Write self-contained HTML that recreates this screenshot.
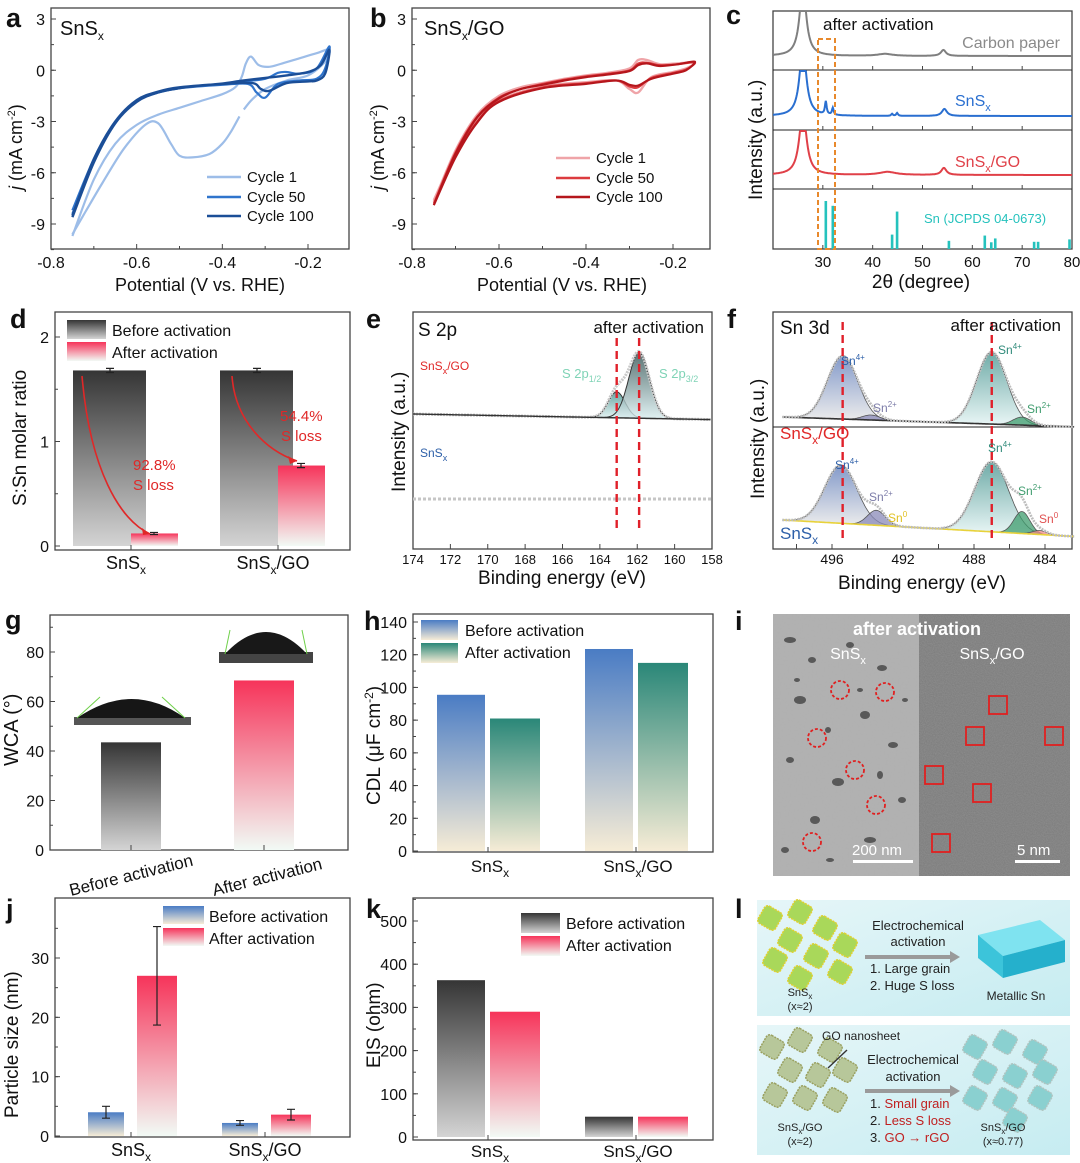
<!DOCTYPE html>
<html><head><meta charset="utf-8"><style>
body{margin:0;background:#fff}
svg{display:block;font-family:"Liberation Sans",Arial,sans-serif}
</style></head><body>
<svg id="fig" width="1080" height="1163" viewBox="0 0 1080 1163" xmlns="http://www.w3.org/2000/svg">
<defs>
<linearGradient id="gDark" x1="0" y1="0" x2="0" y2="1"><stop offset="0" stop-color="#353535"/><stop offset="1" stop-color="#d4d4d4"/></linearGradient>
<linearGradient id="gRed" x1="0" y1="0" x2="0" y2="1"><stop offset="0" stop-color="#f6345a"/><stop offset="1" stop-color="#f2faf5"/></linearGradient>
<linearGradient id="gBlue" x1="0" y1="0" x2="0" y2="1"><stop offset="0" stop-color="#4a7cc4"/><stop offset="1" stop-color="#f6ecd6"/></linearGradient>
<linearGradient id="gTeal" x1="0" y1="0" x2="0" y2="1"><stop offset="0" stop-color="#2a8778"/><stop offset="1" stop-color="#f6ecd6"/></linearGradient>
<linearGradient id="gSch" x1="0" y1="0" x2="1" y2="1"><stop offset="0" stop-color="#e6f6f8"/><stop offset="1" stop-color="#c6ecf1"/></linearGradient>
<linearGradient id="gPkB" x1="0" y1="0" x2="0" y2="1"><stop offset="0" stop-color="#5a78b8"/><stop offset="1" stop-color="#e6e6e6"/></linearGradient>
<linearGradient id="gPkT" x1="0" y1="0" x2="0" y2="1"><stop offset="0" stop-color="#3f8f8a"/><stop offset="1" stop-color="#e2f3f3"/></linearGradient>
<linearGradient id="gPkD" x1="0" y1="0" x2="0" y2="1"><stop offset="0" stop-color="#2f4f4f"/><stop offset="1" stop-color="#d9eef0"/></linearGradient>
<filter id="noiseL" x="0" y="0" width="1" height="1"><feTurbulence type="fractalNoise" baseFrequency="0.5" numOctaves="2" seed="3"/><feColorMatrix type="matrix" values="0 0 0 0 0.45  0 0 0 0 0.45  0 0 0 0 0.45  0.8 0 0 0 -0.1"/></filter>
<filter id="noiseR" x="0" y="0" width="1" height="1"><feTurbulence type="fractalNoise" baseFrequency="0.9" numOctaves="2" seed="7"/><feColorMatrix type="matrix" values="0 0 0 0 0.2  0 0 0 0 0.2  0 0 0 0 0.2  1.4 0 0 0 -0.25"/></filter>
<clipPath id="clipC"><rect x="773" y="11" width="299" height="238"/></clipPath>
<clipPath id="clipI"><rect x="773" y="614" width="297" height="262"/></clipPath>
</defs>
<g id="root"></g>
</svg>
<script>
// ---------- DATA ----------
const aC1x=[-0.75,-0.7,-0.65,-0.6,-0.55,-0.5,-0.45,-0.4,-0.37,-0.355,-0.345,-0.333,-0.315,-0.29,-0.26,-0.22,-0.18,-0.15,-0.16,-0.2,-0.25,-0.3,-0.33,-0.35];
const aC1y=[-9.7,-6.4,-4.3,-3.2,-2.6,-2.2,-1.8,-1.4,-1.0,-0.4,0.4,0.8,0.3,0.2,0.4,0.7,1.0,1.2,0.5,-0.3,-0.6,-1.1,-1.7,-2.3];
const aC1bx=[-0.36,-0.38,-0.4,-0.43,-0.47,-0.5,-0.52,-0.55,-0.58,-0.63,-0.68,-0.72,-0.75];
const aC1by=[-2.7,-3.6,-4.3,-4.9,-5.1,-5.0,-4.3,-3.1,-3.2,-4.6,-6.6,-8.3,-9.6];
const aC50x=[-0.75,-0.7,-0.65,-0.6,-0.55,-0.5,-0.45,-0.4,-0.35,-0.3,-0.27,-0.25,-0.22,-0.18,-0.15,-0.16,-0.18,-0.22,-0.27,-0.3,-0.32,-0.34,-0.4,-0.5,-0.55,-0.6,-0.65,-0.7,-0.75];
const aC50y=[-8.2,-5.2,-3.0,-1.8,-1.3,-1.05,-0.9,-0.8,-0.65,-0.5,-0.15,-0.1,-0.2,0.1,1.4,0.1,-0.5,-0.6,-0.8,-1.6,-1.3,-0.8,-0.85,-1.05,-1.3,-1.8,-3.1,-5.3,-8.4];
const aC100x=[-0.75,-0.7,-0.65,-0.6,-0.55,-0.5,-0.45,-0.4,-0.35,-0.3,-0.25,-0.2,-0.17,-0.15,-0.16,-0.18,-0.2,-0.25,-0.29,-0.31,-0.33,-0.4,-0.5,-0.55,-0.6,-0.65,-0.7,-0.75];
const aC100y=[-8.6,-5.4,-3.1,-1.85,-1.3,-1.05,-0.9,-0.78,-0.6,-0.45,-0.3,-0.1,0.3,1.2,-0.2,-0.6,-0.65,-0.75,-1.2,-1.1,-0.75,-0.8,-1.0,-1.25,-1.75,-3.0,-5.2,-8.5];
const bC1x=[-0.75,-0.7,-0.65,-0.6,-0.55,-0.5,-0.45,-0.4,-0.35,-0.3,-0.28,-0.26,-0.23,-0.19,-0.15,-0.17,-0.2,-0.25,-0.28,-0.3,-0.33,-0.4,-0.5,-0.6,-0.65,-0.7,-0.75];
const bC1y=[-7.7,-4.7,-2.6,-1.5,-1.0,-0.75,-0.5,-0.3,-0.15,0.1,0.6,0.6,0.35,0.4,0.45,0.1,-0.1,-0.4,-1.3,-1.1,-0.6,-0.7,-0.95,-1.75,-2.9,-4.9,-7.6];
const bC50y=[-7.8,-4.8,-2.7,-1.6,-1.1,-0.8,-0.55,-0.35,-0.2,0.0,0.4,0.45,0.3,0.35,0.45,0.05,-0.15,-0.45,-1.0,-0.95,-0.6,-0.75,-1.0,-1.8,-3.0,-5.0,-7.8];
const bC100y=[-7.9,-4.9,-2.75,-1.65,-1.1,-0.85,-0.6,-0.4,-0.25,-0.05,0.3,0.4,0.25,0.35,0.5,0.0,-0.2,-0.5,-0.9,-0.85,-0.6,-0.8,-1.05,-1.85,-3.05,-5.1,-7.9];
const xrdCarbon=[[26,70,0.8],[42.5,2,1.8],[54.2,6,0.6]];
const xrdSnSx=[[26,70,0.8],[30.6,13,0.2],[32,7,0.2],[43.9,2,0.2],[44.9,3,0.2],[54.4,7,0.6]];
const xrdGO=[[26,65,0.85],[43,3,2],[54.3,7,0.6]];
const snRefPos=[30.6,32.0,43.9,44.9,55.3,62.5,63.8,64.6,72.4,73.2,79.5];
const snRefInt=[100,90,30,78,17,28,14,22,15,15,20];
const dCats=["SnSx","SnSx/GO"];
const dBefore=[1.68,1.68];
const dAfter=[0.12,0.77];
const dBeforeErr=[0.02,0.02];
const dAfterErr=[0.01,0.02];
const eGO=[[163.1,26,0.45],[161.9,66,0.55]];
const fGO=[[495.4,63,0.85],[493.8,5,0.5],[487.0,72,0.85],[485.3,8,0.5]];
const fSnSx=[[495.5,58,0.9],[493.5,15,0.5],[487.0,70,0.95],[485.3,22,0.45],[484.3,4,0.4]];
const gCats=["Before activation","After activation"];
const gVals=[43.5,68.5];
const hCats=["SnSx","SnSx/GO"];
const hBefore=[95.5,123.5];
const hAfter=[81,115];
const jBefore=[4.0,2.2];
const jAfter=[27,3.6];
const jBeforeErr=[1.0,0.4];
const jAfterErr=[8.3,0.9];
const kBefore=[363,47];
const kAfter=[290,47];

// ---------- HELPERS ----------
const NS="http://www.w3.org/2000/svg";
const root=document.getElementById('root');
function mk(tag,attrs,parent){const e=document.createElementNS(NS,tag);for(const k in attrs)e.setAttribute(k,attrs[k]);(parent||root).appendChild(e);return e;}
function lin(d0,d1,r0,r1){return v=>r0+(v-d0)*(r1-r0)/(d1-d0);}
function txt(x,y,s,size,opts){const t=mk('text',Object.assign({x:x,y:y,'font-size':size,fill:'#111'},opts||{}));t.innerHTML=s;return t;}
function box(x,y,w,h,name){const r=mk('rect',{x:x,y:y,width:w,height:h,fill:'none',stroke:'#444','stroke-width':1.3});}
function pathFrom(xs,ys,sx,sy){const P=xs.map((v,i)=>[sx(v),sy(ys[i])]);let d='M'+P[0][0].toFixed(1)+','+P[0][1].toFixed(1);
 for(let i=0;i<P.length-1;i++){const p0=P[Math.max(0,i-1)],p1=P[i],p2=P[i+1],p3=P[Math.min(P.length-1,i+2)];
  const c1=[p1[0]+(p2[0]-p0[0])/6,p1[1]+(p2[1]-p0[1])/6],c2=[p2[0]-(p3[0]-p1[0])/6,p2[1]-(p3[1]-p1[1])/6];
  d+='C'+c1.map(v=>v.toFixed(1)).join(',')+' '+c2.map(v=>v.toFixed(1)).join(',')+' '+p2[0].toFixed(1)+','+p2[1].toFixed(1);}
 return d;}
function yTicks(vals,sy,x0,minorStep,lo,hi,fmt){vals.forEach(v=>{mk('line',{x1:x0,x2:x0+5,y1:sy(v),y2:sy(v),stroke:'#444'});const t=txt(x0-6,sy(v)+6,fmt?fmt(v):v,16,{'text-anchor':'end'});});
 if(minorStep)for(let v=lo;v<=hi+1e-9;v+=minorStep)mk('line',{x1:x0,x2:x0+3,y1:sy(v),y2:sy(v),stroke:'#444'});}
function xTicks(vals,sx,y0,size){vals.forEach(v=>{mk('line',{x1:sx(v),x2:sx(v),y1:y0,y2:y0-5,stroke:'#444'});const t=txt(sx(v),y0+19,v,size||16,{'text-anchor':'middle'});});}
function panelLetter(x,y,s){const t=txt(x,y,s,27,{'font-weight':'bold'});}

// ---------- PANEL A ----------
(function(){
 const sx=lin(-0.8,-0.2,51,308), sy=lin(3,-9,19,224);
 box(51,8,298,241,'panel-a-plot-area');
 yTicks([3,0,-3,-6,-9],sy,51,1.5,-10.5,3,v=>v);
 xTicks([-0.8,-0.6,-0.4,-0.2],sx,249);
 [-0.7,-0.5,-0.3].forEach(v=>mk('line',{x1:sx(v),x2:sx(v),y1:249,y2:246,stroke:'#444'}));
 let p=mk('path',{d:pathFrom(aC1x,aC1y,sx,sy),fill:'none',stroke:'#9dbde8','stroke-width':2.2});
 p=mk('path',{d:pathFrom(aC1bx,aC1by,sx,sy),fill:'none',stroke:'#9dbde8','stroke-width':2.2});
 p=mk('path',{d:pathFrom(aC50x,aC50y,sx,sy),fill:'none',stroke:'#2f74cc','stroke-width':2.2});
 p=mk('path',{d:pathFrom(aC100x,aC100y,sx,sy),fill:'none',stroke:'#1b4e97','stroke-width':2.4});
 panelLetter(6,27,'a');
 txt(60,35,'SnS<tspan font-size="12" dy="5">x</tspan>',20);
 [['Cycle 1','#9dbde8',177],['Cycle 50','#2f74cc',197],['Cycle 100','#1b4e97',216]].forEach(l=>{const g=mk('line',{x1:207,x2:241,y1:l[2],y2:l[2],stroke:l[1],'stroke-width':2.6});txt(247,l[2]+5,l[0],15);});
 txt(0,0,'<tspan font-style="italic">j</tspan> (mA cm<tspan font-size="11" dy="-7">-2</tspan><tspan dy="7">)</tspan>',18,{transform:'translate(22,190) rotate(-90)'});
 txt(200,291,'Potential (V vs. RHE)',18,{'text-anchor':'middle'});
})();

// ---------- PANEL B ----------
(function(){
 const sx=lin(-0.8,-0.2,412,673), sy=lin(3,-9,19,224);
 box(412,8,298,241,'panel-b-plot-area');
 yTicks([3,0,-3,-6,-9],sy,412,1.5,-10.5,3,v=>v);
 xTicks([-0.8,-0.6,-0.4,-0.2],sx,249);
 [-0.7,-0.5,-0.3].forEach(v=>mk('line',{x1:sx(v),x2:sx(v),y1:249,y2:246,stroke:'#444'}));
 let p=mk('path',{d:pathFrom(bC1x,bC1y,sx,sy),fill:'none',stroke:'#efa4a8','stroke-width':2.4});
 p=mk('path',{d:pathFrom(bC1x,bC50y,sx,sy),fill:'none',stroke:'#dc3b3f','stroke-width':2});
 p=mk('path',{d:pathFrom(bC1x,bC100y,sx,sy),fill:'none',stroke:'#b5161c','stroke-width':2.2});
 panelLetter(370,27,'b');
 txt(424,35,'SnS<tspan font-size="12" dy="5">x</tspan><tspan dy="-5">/GO</tspan>',20);
 [['Cycle 1','#efa4a8',158],['Cycle 50','#dc3b3f',178],['Cycle 100','#b5161c',197]].forEach(l=>{const g=mk('line',{x1:556,x2:590,y1:l[2],y2:l[2],stroke:l[1],'stroke-width':2.6});txt(596,l[2]+5,l[0],15);});
 txt(0,0,'<tspan font-style="italic">j</tspan> (mA cm<tspan font-size="11" dy="-7">-2</tspan><tspan dy="7">)</tspan>',18,{transform:'translate(384,190) rotate(-90)'});
 txt(562,291,'Potential (V vs. RHE)',18,{'text-anchor':'middle'});
})();

// ---------- PANEL C ----------
(function(){
 const sx=lin(20,80,773,1072);
 box(773,11,299,238,'panel-c-plot-area');
 [70,130,189].forEach(y=>mk('line',{x1:773,x2:1072,y1:y,y2:y,stroke:'#222','stroke-width':1}));
 for(let v=30;v<=80;v+=10){[249,70,130,189].forEach(y=>mk('line',{x1:sx(v),x2:sx(v),y1:y,y2:y-4,stroke:'#444'}));const t=txt(sx(v),267,v,15,{'text-anchor':'middle'});}
 const g=mk('g',{'clip-path':'url(#clipC)'});
 function trace(peaks,base,top,color,name){let d='';for(let x=20;x<=80;x+=0.1){let y=base;peaks.forEach(p=>{y-=p[1]*p[2]*p[2]/((x-p[0])**2+p[2]*p[2]);});y=Math.max(y,top);d+=(d?'L':'M')+sx(x).toFixed(1)+','+y.toFixed(1);}const p=mk('path',{d:d,fill:'none',stroke:color,'stroke-width':2},g);}
 trace(xrdCarbon,56,11,'#7f7f7f','xrd-carbon-paper');
 trace(xrdSnSx,116,71,'#2a6fd0','xrd-snsx');
 trace(xrdGO,175,131,'#e04048','xrd-snsx-go');
 const sy=lin(0,100,249,201);
 snRefPos.forEach((v,i)=>{const r=mk('rect',{x:sx(v)-1.3,y:sy(snRefInt[i]),width:2.6,height:249-sy(snRefInt[i]),fill:'#25c2bd'});});
 const ob=mk('rect',{x:818,y:39,width:17,height:210,fill:'none',stroke:'#e8892c','stroke-width':2,'stroke-dasharray':'5,3'});
 panelLetter(726,24,'c');
 txt(823,30,'after activation',17);
 txt(1060,48,'Carbon paper',16,{fill:'#8a8a8a','text-anchor':'end'});
 txt(955,106,'SnS<tspan font-size="11" dy="5">x</tspan>',16,{fill:'#2a6fd0'});
 txt(955,167,'SnS<tspan font-size="11" dy="5">x</tspan><tspan dy="-5">/GO</tspan>',16,{fill:'#e04048'});
 txt(924,223,'Sn (JCPDS 04-0673)',13,{fill:'#25c2bd'});
 txt(0,0,'Intensity (a.u.)',19,{transform:'translate(762,200) rotate(-90)'});
 txt(921,288,'2θ (degree)',19,{'text-anchor':'middle'});
})();

function bar(x,w,y0,y1,fill,name){const r=mk('rect',{x:x,y:Math.min(y0,y1),width:w,height:Math.abs(y0-y1),fill:fill});return r;}
function err(cx,yv,e,sy,name){const l=mk('path',{d:`M${cx},${sy(yv+e)}V${sy(yv-e)}M${cx-4},${sy(yv+e)}H${cx+4}M${cx-4},${sy(yv-e)}H${cx+4}`,stroke:'#222','stroke-width':1.2,fill:'none'});}

// ---------- PANEL D ----------
(function(){
 const sy=lin(0,2,546,337);
 box(55,312,295,238,'panel-d-plot-area');
 yTicks([0,1,2],sy,55,0.5,0,2.1);
 const cx=[110,257];
 dCats.forEach((c,i)=>{
  bar(cx[i]-37,73,sy(0),sy(dBefore[i]),'url(#gDark)','bar-before-'+c);
  err(cx[i],dBefore[i],dBeforeErr[i],sy,'error-bar');
  bar(cx[i]+21,47,sy(0),sy(dAfter[i]),'url(#gRed)','bar-after-'+c);
  err(cx[i]+44,dAfter[i],dAfterErr[i],sy,'error-bar');
  mk('line',{x1:cx[i]+21,x2:cx[i]+21,y1:550,y2:545,stroke:'#444'});
 });
 let a=mk('path',{d:`M82,376 C90,470 120,520 150,534`,fill:'none',stroke:'#e02828','stroke-width':1.6});
 mk('path',{d:'M150,534 l-8,-6 l1,7z',fill:'#e02828'});
 a=mk('path',{d:`M232,376 C235,420 265,450 297,461`,fill:'none',stroke:'#e02828','stroke-width':1.6});
 mk('path',{d:'M297,461 l-9,-5 l2,8z',fill:'#e02828'});
 txt(133,470,'92.8%',15,{fill:'#e02828'});txt(133,490,'S loss',15,{fill:'#e02828'});
 txt(280,421,'54.4%',15,{fill:'#e02828'});txt(281,441,'S loss',15,{fill:'#e02828'});
 bar(67,39,320,339,'url(#gDark)','legend-swatch-before');bar(67,39,342,361,'url(#gRed)','legend-swatch-after');
 txt(112,336,'Before activation',16);
 txt(112,358,'After activation',16);
 panelLetter(10,328,'d');
 txt(126,569,'SnS<tspan font-size="12" dy="5">x</tspan>',18,{'text-anchor':'middle'});
 txt(273,569,'SnS<tspan font-size="12" dy="5">x</tspan><tspan dy="-5">/GO</tspan>',18,{'text-anchor':'middle'});
 txt(0,0,'S:Sn molar ratio',19,{transform:'translate(26,506) rotate(-90)'});
})();

// ---------- PANEL E ----------
(function(){
 const sx=lin(174,158,413,712);
 box(413,312,299,237,'panel-e-plot-area');
 for(let v=174;v>=158;v-=2){mk('line',{x1:sx(v),x2:sx(v),y1:549,y2:544,stroke:'#444'});txt(sx(v),564,v,13,{'text-anchor':'middle'});}
 const bl=x=>414+(174-x)*0.35;
 const comp=(pk,x)=>pk[1]*Math.exp(-((x-pk[0])**2)/(2*pk[2]*pk[2]));
 const fills=['url(#gPkT)','url(#gPkD)'];
 eGO.forEach((pk,i)=>{let d='';for(let x=pk[0]+2.2;x>=pk[0]-2.2;x-=0.05){d+=(d?'L':'M')+sx(x).toFixed(1)+','+(bl(x)-comp(pk,x)).toFixed(1);}d+=`L${sx(pk[0]-2.2)},${bl(pk[0]-2.2)}L${sx(pk[0]+2.2)},${bl(pk[0]+2.2)}Z`;const p=mk('path',{d:d,fill:fills[i],'fill-opacity':0.8,stroke:'#333','stroke-width':1});});
 let d='',dd='';for(let x=174;x>=158;x-=0.08){let y=bl(x);eGO.forEach(pk=>y-=comp(pk,x));d+=(d?'L':'M')+sx(x).toFixed(1)+','+y.toFixed(1);dd+=(dd?'L':'M')+sx(x).toFixed(1)+','+bl(x).toFixed(1);}
 let p=mk('path',{d:d,fill:'none',stroke:'#c8c8c8','stroke-width':3,'stroke-dasharray':'2,1'});
 p=mk('path',{d:dd,fill:'none',stroke:'#333','stroke-width':1.4});
 p=mk('path',{d:`M413,499H712`,stroke:'#c6c6c6','stroke-width':3,'stroke-dasharray':'3,2'});
 eGO.forEach(pk=>{const l=mk('line',{x1:sx(pk[0]),x2:sx(pk[0]),y1:338,y2:530,stroke:'#e0202a','stroke-width':2.4,'stroke-dasharray':'8,5'});});
 panelLetter(366,328,'e');
 txt(418,336,'S 2p',19);
 txt(704,333,'after activation',17,{'text-anchor':'end'});
 txt(420,370,'SnS<tspan font-size="9" dy="4">x</tspan><tspan dy="-4">/GO</tspan>',12,{fill:'#e02828'});
 txt(420,457,'SnS<tspan font-size="9" dy="4">x</tspan>',12,{fill:'#2d5fa8'});
 txt(562,378,'S 2p<tspan font-size="9" dy="4">1/2</tspan>',13,{fill:'#7fd3b6'});
 txt(659,378,'S 2p<tspan font-size="9" dy="4">3/2</tspan>',13,{fill:'#7fd3b6'});
 txt(0,0,'Intensity (a.u.)',19,{transform:'translate(405,492) rotate(-90)'});
 txt(562,584,'Binding energy (eV)',19,{'text-anchor':'middle'});
})();

// ---------- PANEL F ----------
(function(){
 const sx=lin(496,484,832,1045);
 box(773,312,299,237,'panel-f-plot-area');
 [496,492,488,484].forEach(v=>{txt(sx(v),564,v,14,{'text-anchor':'middle'});});
 for(let v=498;v>=483;v-=2)mk('line',{x1:sx(v),x2:sx(v),y1:549,y2:544,stroke:'#444'});
 mk('line',{x1:773,x2:1072,y1:427,y2:427,stroke:'#222'});
 const comp=(pk,x)=>pk[1]*Math.exp(-((x-pk[0])**2)/(2*pk[2]*pk[2]));
 function spec(peaks,bl,fills,lineCol,name){
  peaks.forEach((pk,i)=>{let d='';const r=pk[2]*3;for(let x=pk[0]+r;x>=pk[0]-r;x-=0.05)d+=(d?'L':'M')+sx(x).toFixed(1)+','+(bl(x)-comp(pk,x)).toFixed(1);d+=`L${sx(pk[0]-r)},${bl(pk[0]-r)}L${sx(pk[0]+r)},${bl(pk[0]+r)}Z`;const p=mk('path',{d:d,fill:fills[i],'fill-opacity':0.75,stroke:'#555','stroke-width':0.8});});
  let d='',b='';for(let x=498.8;x>=482.3;x-=0.06){let y=bl(x);peaks.forEach(pk=>y-=comp(pk,x));d+=(d?'L':'M')+sx(x).toFixed(1)+','+y.toFixed(1);b+=(b?'L':'M')+sx(x).toFixed(1)+','+bl(x).toFixed(1);}
  let p=mk('path',{d:b,fill:'none',stroke:lineCol,'stroke-width':1.6});
  p=mk('path',{d:d,fill:'none',stroke:'#bdbdbd','stroke-width':2.6,'stroke-dasharray':'2,1'});
 }
 spec(fGO,x=>417+(498.8-x)*0.6,['url(#gPkB)','#8a8ab8','url(#gPkT)','#3f9c6e'],'#333','xps-snsx-go');
 spec(fSnSx,x=>520+(498.8-x)*1.0,['url(#gPkB)','#8a8ab8','url(#gPkT)','#3f9c6e','#f08a8a'],'#e8d23a','xps-snsx');
 [495.4,487.0].forEach(v=>{const l=mk('line',{x1:sx(v),x2:sx(v),y1:322,y2:541,stroke:'#e0202a','stroke-width':2.4,'stroke-dasharray':'8,5'});});
 panelLetter(727,328,'f');
 txt(780,334,'Sn 3d',19);
 txt(1061,331,'after activation',17,{'text-anchor':'end'});
 const sup=(x,y,s,c)=>txt(x,y,'Sn<tspan font-size="8" dy="-5">'+s+'</tspan>',12,{fill:c});
 sup(841,365,'4+','#2d5fa8');sup(873,412,'2+','#7c7ca8');sup(998,354,'4+','#2f8a7a');sup(1027,413,'2+','#3f9c6e');
 sup(835,469,'4+','#2d5fa8');sup(869,501,'2+','#7c7ca8');sup(888,522,'0','#e0c020');sup(988,452,'4+','#2f8a7a');sup(1018,495,'2+','#3f9c6e');sup(1039,523,'0','#e05050');
 txt(780,439,'SnS<tspan font-size="12" dy="5">x</tspan><tspan dy="-5">/GO</tspan>',17,{fill:'#e02828'});
 txt(780,539,'SnS<tspan font-size="12" dy="5">x</tspan>',17,{fill:'#2d5fa8'});
 txt(0,0,'Intensity (a.u.)',19,{transform:'translate(764,499) rotate(-90)'});
 txt(922,589,'Binding energy (eV)',19,{'text-anchor':'middle'});
})();

// ---------- PANEL G ----------
(function(){
 const sy=lin(0,80,850,652);
 box(50,615,298,235,'panel-g-plot-area');
 yTicks([0,20,40,60,80],sy,50,10,0,90);
 const cx=[131,264];
 gCats.forEach((c,i)=>{bar(cx[i]-30,60,sy(0),sy(gVals[i]),i?'url(#gRed)':'url(#gDark)','bar-wca-'+i);mk('line',{x1:cx[i],x2:cx[i],y1:850,y2:845,stroke:'#444'});});
 let dr=mk('g',{});
 mk('rect',{x:74,y:717,width:117,height:8,fill:'#555'},dr);mk('path',{d:'M77,718 Q132,680 185,718Z',fill:'#161616'},dr);
 mk('line',{x1:77,x2:100,y1:718,y2:697,stroke:'#6fd04a'},dr);mk('line',{x1:185,x2:162,y1:718,y2:697,stroke:'#6fd04a'},dr);
 dr=mk('g',{});
 mk('rect',{x:219,y:652,width:94,height:11,fill:'#444'},dr);mk('path',{d:'M225,654 Q266,610 307,654Z',fill:'#181818'},dr);
 mk('line',{x1:225,x2:230,y1:654,y2:630,stroke:'#6fd04a'},dr);mk('line',{x1:307,x2:302,y1:654,y2:630,stroke:'#6fd04a'},dr);
 panelLetter(5,629,'g');
 txt(0,0,'Before activation',17,{transform:'translate(71,896) rotate(-14)'});
 txt(0,0,'After activation',17,{transform:'translate(214,896) rotate(-14)'});
 txt(0,0,'WCA (°)',20,{transform:'translate(18,766) rotate(-90)'});
})();

// ---------- PANEL H ----------
(function(){
 const sy=lin(0,140,851,622);
 box(413,614,300,238,'panel-h-plot-area');
 yTicks([0,20,40,60,80,100,120,140],sy,413,10,0,140);
 const cx=[488,636];
 hCats.forEach((c,i)=>{bar(cx[i]-51,48,sy(0),sy(hBefore[i]),'url(#gBlue)','bar-before-'+c);bar(cx[i]+2,50,sy(0),sy(hAfter[i]),'url(#gTeal)','bar-after-'+c);mk('line',{x1:cx[i],x2:cx[i],y1:852,y2:847,stroke:'#444'});});
 bar(421,37,620,640,'url(#gBlue)','legend-swatch-before');bar(421,37,643,663,'url(#gTeal)','legend-swatch-after');
 txt(465,636,'Before activation',16);
 txt(465,658,'After activation',16);
 panelLetter(364,630,'h');
 txt(490,872,'SnS<tspan font-size="12" dy="5">x</tspan>',17,{'text-anchor':'middle'});
 txt(638,872,'SnS<tspan font-size="12" dy="5">x</tspan><tspan dy="-5">/GO</tspan>',17,{'text-anchor':'middle'});
 txt(0,0,'CDL (μF cm<tspan font-size="12" dy="-7">-2</tspan><tspan dy="7">)</tspan>',19,{transform:'translate(380,805) rotate(-90)'});
})();

// ---------- PANEL I (TEM) ----------
(function(){
 const g=mk('g',{'clip-path':'url(#clipI)'});
 mk('rect',{x:773,y:614,width:146,height:262,fill:'#b0b0b0'},g);
 mk('rect',{x:773,y:614,width:146,height:262,filter:'url(#noiseL)'},g);
 mk('rect',{x:919,y:614,width:151,height:262,fill:'#8c8c8c'},g);
 mk('rect',{x:919,y:614,width:151,height:262,filter:'url(#noiseR)'},g);
 [[790,640,6,3],[812,660,4,3],[850,645,4,3],[882,668,5,3],[800,700,6,4],[865,715,5,4],[790,760,4,3],[838,782,6,4],[893,745,5,3],[815,820,5,4],[870,840,6,3],[902,800,4,3],[785,850,4,3],[828,730,3,3],[880,775,3,4],[797,680,3,2],[860,690,3,2],[905,700,3,2],[830,860,4,2]].forEach(b=>mk('ellipse',{cx:b[0],cy:b[1],rx:b[2],ry:b[3],fill:'#333','fill-opacity':0.7},g));
 [[840,690],[885,692],[817,738],[855,770],[812,842],[876,805]].forEach(c=>{const e=mk('circle',{cx:c[0],cy:c[1],r:9,fill:'none',stroke:'#e02020','stroke-width':1.8,'stroke-dasharray':'3,2'});});
 [[998,705],[975,736],[1054,736],[934,775],[982,793],[941,843]].forEach(c=>{const e=mk('rect',{x:c[0]-9,y:c[1]-9,width:18,height:18,fill:'none',stroke:'#e02020','stroke-width':1.8});});
 txt(917,635,'after activation',18,{fill:'#fff','font-weight':'bold','text-anchor':'middle'});
 txt(848,659,'SnS<tspan font-size="11" dy="5">x</tspan>',16,{fill:'#fff','text-anchor':'middle'});
 txt(992,659,'SnS<tspan font-size="11" dy="5">x</tspan><tspan dy="-5">/GO</tspan>',16,{fill:'#fff','text-anchor':'middle'});
 txt(852,855,'200 nm',15,{fill:'#fff'});
 mk('rect',{x:853,y:860,width:60,height:3,fill:'#fff'});
 txt(1017,855,'5 nm',15,{fill:'#fff'});
 mk('rect',{x:1015,y:860,width:45,height:3,fill:'#fff'});
 panelLetter(735,630,'i');
})();

// ---------- PANEL J ----------
(function(){
 const sy=lin(0,30,1136,958);
 box(55,898,295,239,'panel-j-plot-area');
 yTicks([0,10,20,30],sy,55,5,0,35);
 const cx=[131,265];
 ['SnSx','SnSx/GO'].forEach((c,i)=>{bar(cx[i]-43,36,sy(0),sy(jBefore[i]),'url(#gBlue)','bar-before-'+c);err(cx[i]-25,jBefore[i],jBeforeErr[i],sy,'error-bar');
  bar(cx[i]+6,40,sy(0),sy(jAfter[i]),'url(#gRed)','bar-after-'+c);err(cx[i]+26,jAfter[i],jAfterErr[i],sy,'error-bar');mk('line',{x1:cx[i],x2:cx[i],y1:1137,y2:1132,stroke:'#444'});});
 bar(163,41,906,924,'url(#gBlue)','legend-swatch-before');bar(163,41,928,946,'url(#gRed)','legend-swatch-after');
 txt(209,922,'Before activation',16);
 txt(209,944,'After activation',16);
 panelLetter(6,918,'j');
 txt(131,1156,'SnS<tspan font-size="12" dy="5">x</tspan>',18,{'text-anchor':'middle'});
 txt(265,1156,'SnS<tspan font-size="12" dy="5">x</tspan><tspan dy="-5">/GO</tspan>',18,{'text-anchor':'middle'});
 txt(0,0,'Particle size (nm)',19,{transform:'translate(18,1118) rotate(-90)'});
})();

// ---------- PANEL K ----------
(function(){
 const sy=lin(0,500,1137,921);
 box(413,898,300,242,'panel-k-plot-area');
 yTicks([0,100,200,300,400,500],sy,413,50,0,550);
 const cx=[488,636];
 ['SnSx','SnSx/GO'].forEach((c,i)=>{bar(cx[i]-51,48,sy(0),sy(kBefore[i]),'url(#gDark)','bar-before-'+c);bar(cx[i]+2,50,sy(0),sy(kAfter[i]),'url(#gRed)','bar-after-'+c);mk('line',{x1:cx[i],x2:cx[i],y1:1140,y2:1135,stroke:'#444'});});
 bar(521,39,913,933,'url(#gDark)','legend-swatch-before');bar(521,39,936,956,'url(#gRed)','legend-swatch-after');
 txt(566,929,'Before activation',16);
 txt(566,951,'After activation',16);
 panelLetter(366,918,'k');
 txt(490,1157,'SnS<tspan font-size="12" dy="5">x</tspan>',17,{'text-anchor':'middle'});
 txt(638,1157,'SnS<tspan font-size="12" dy="5">x</tspan><tspan dy="-5">/GO</tspan>',17,{'text-anchor':'middle'});
 txt(0,0,'EIS (ohm)',19,{transform:'translate(380,1068) rotate(-90)'});
})();

// ---------- PANEL L ----------
(function(){
 panelLetter(735,918,'l');
 let r=mk('rect',{x:757,y:900,width:313,height:116,fill:'url(#gSch)'});
 r=mk('rect',{x:757,y:1025,width:313,height:130,fill:'url(#gSch)'});
 const cl=(pts,fill,stroke)=>pts.forEach(p=>{mk('rect',{x:p[0]-10,y:p[1]-10,width:20,height:20,rx:4,fill:fill,stroke:stroke,'stroke-width':1.5,'stroke-dasharray':'2,1',transform:`rotate(30 ${p[0]} ${p[1]})`});});
 cl([[770,918],[800,912],[825,928],[790,940],[816,956],[845,945],[775,960],[800,978],[840,972]],'#a9d85a','#e0d030');
 cl([[772,1047],[800,1040],[830,1050],[790,1070],[818,1075],[845,1070],[775,1095],[805,1098],[835,1100]],'#b7c79a','#9aa060');
 cl([[975,1047],[1005,1042],[1035,1052],[985,1072],[1015,1076],[1045,1072],[975,1098],[1005,1100],[1040,1098],[1015,1120]],'#8ad0d0','#b0c4c0');
 mk('path',{d:'M978,935 L1040,920 L1065,940 L1003,956Z',fill:'#7fe3f0'});
 mk('path',{d:'M978,935 L1003,956 L1003,978 L978,958Z',fill:'#3cc4da'});
 mk('path',{d:'M1003,956 L1065,940 L1065,962 L1003,978Z',fill:'#25b0cc'});
 mk('path',{d:'M865,955 H950 l0,-4 l10,6 l-10,6 l0,-4 H865Z',fill:'#9a9a9a'});
 mk('path',{d:'M865,1089 H950 l0,-4 l10,6 l-10,6 l0,-4 H865Z',fill:'#9a9a9a'});
 mk('line',{x1:847,x2:828,y1:1050,y2:1068,stroke:'#333','stroke-width':1.4});
 const T=(x,y,s,fs,c,a)=>{const t=txt(x,y,s,fs,{fill:c||'#222','text-anchor':a||'start'});return t;};
 T(918,930,'Electrochemical',13,null,'middle');T(918,946,'activation',13,null,'middle');
 T(870,973,'1. Large grain',13);T(870,990,'2. Huge S loss',13);
 T(800,996,'SnS<tspan font-size="8" dy="3">x</tspan>',11,null,'middle');T(800,1010,'(x≈2)',11,null,'middle');
 T(1016,1000,'Metallic Sn',12,null,'middle');
 T(822,1040,'GO nanosheet',12);
 T(913,1064,'Electrochemical',13,null,'middle');T(913,1081,'activation',13,null,'middle');
 T(870,1108,'1. <tspan fill="#c02020">Small grain</tspan>',13);T(870,1125,'2. <tspan fill="#c02020">Less S loss</tspan>',13);T(870,1142,'3. <tspan fill="#c02020">GO → rGO</tspan>',13);
 T(800,1131,'SnS<tspan font-size="8" dy="3">x</tspan><tspan dy="-3">/GO</tspan>',11,null,'middle');T(800,1145,'(x≈2)',11,null,'middle');
 T(1003,1131,'SnS<tspan font-size="8" dy="3">x</tspan><tspan dy="-3">/GO</tspan>',11,null,'middle');T(1003,1145,'(x≈0.77)',11,null,'middle');
})();
</script>
</body></html>
